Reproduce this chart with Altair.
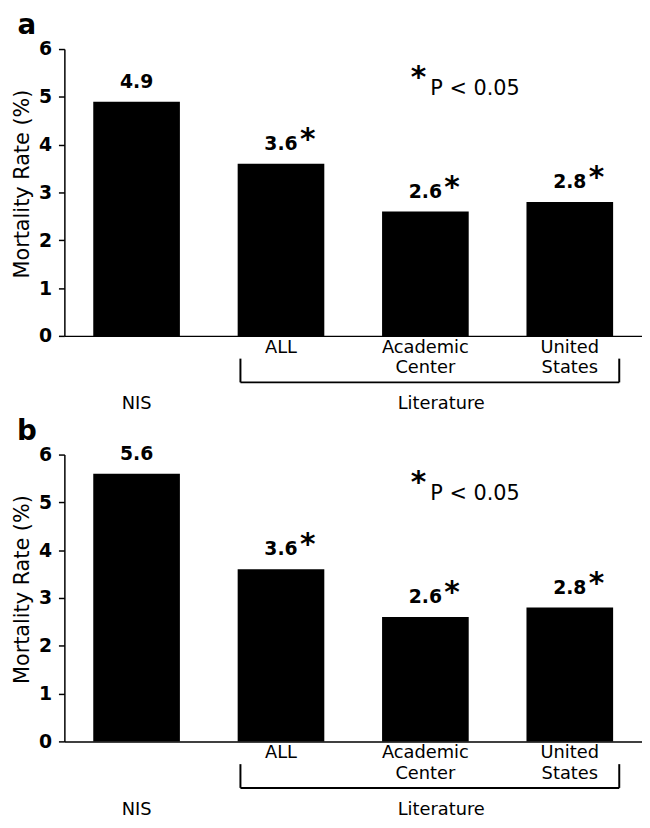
import altair as alt
import pandas as pd

categories = ["NIS", "ALL", "Academic Center", "United States"]
axis_labels = ["", "ALL", "Academic\nCenter", "United\nStates"]
rates_a = [4.9, 3.6, 2.6, 2.8]
rates_b = [5.6, 3.6, 2.6, 2.8]
significant = [False, True, True, True]
y_ticks = [0, 1, 2, 3, 4, 5, 6]
group_labels = ["NIS", "Literature"]
panel_letters = ["a", "b"]
legend_text = ["P < 0.05"]

FONT = "DejaVu Sans"
W, H = 584, 290


def panel(rates, letter):
    df = pd.DataFrame({
        "cat": categories,
        "lab": axis_labels,
        "rate": rates,
        "txt": [f"{r:.1f}" for r in rates],
        "sig": significant,
    })
    x = alt.X(
        "cat:N", sort=categories,
        scale=alt.Scale(paddingInner=0.4, paddingOuter=0.2),
        axis=alt.Axis(labels=False, ticks=False, title=None,
                      domainColor="black", domainWidth=1.5),
    )
    y = alt.Y(
        "rate:Q",
        scale=alt.Scale(domain=[0, 6], nice=False),
        axis=alt.Axis(values=y_ticks, format="d", grid=False,
                      title="Mortality Rate (%)", titleFont=FONT,
                      titleFontSize=21, titleFontWeight="normal",
                      titleColor="black", titlePadding=6, titleY=136,
                      labelFont=FONT, labelFontSize=19,
                      labelFontWeight="bold", labelColor="black",
                      labelPadding=7, tickSize=6, tickColor="black",
                      tickWidth=1.5, domainColor="black", domainWidth=1.5),
    )
    base = alt.Chart(df)
    bars = base.mark_bar(color="black").encode(x=x, y=y)
    vals = base.mark_text(font=FONT, fontSize=19, fontWeight="bold",
                          baseline="middle", dy=-20, color="black").encode(
        x=x, y=y, text="txt:N")
    stars = base.transform_filter("datum.sig").mark_text(
        text="*", font=FONT, fontSize=30, fontWeight="bold",
        baseline="middle", dx=27, dy=-24, color="black").encode(x=x, y=y)
    cats = base.mark_text(font=FONT, fontSize=18, baseline="top",
                          lineBreak="\n", lineHeight=21, color="black").encode(
        x=x, y=alt.value(H + 3), text="lab:N")
    nis = base.transform_filter("datum.cat == 'NIS'").mark_text(
        font=FONT, fontSize=18, baseline="middle", color="black").encode(
        x=x, y=alt.value(H + 69), text=alt.value(group_labels[0]))
    one = pd.DataFrame({"g": [group_labels[1]]})
    lit = alt.Chart(one).mark_text(
        font=FONT, fontSize=18, baseline="middle", color="black").encode(
        x=alt.value(381), y=alt.value(H + 69), text="g:N")
    br_h = alt.Chart(one).mark_rule(color="black", strokeWidth=2).encode(
        x=alt.value(178), x2=alt.value(561), y=alt.value(H + 47))
    br_l = alt.Chart(one).mark_rule(color="black", strokeWidth=2).encode(
        x=alt.value(178), y=alt.value(H + 23), y2=alt.value(H + 47))
    br_r = alt.Chart(one).mark_rule(color="black", strokeWidth=2).encode(
        x=alt.value(561), y=alt.value(H + 23), y2=alt.value(H + 47))
    leg = pd.DataFrame({"t": legend_text})
    leg_star = alt.Chart(leg).mark_text(
        text="*", font=FONT, fontSize=30, fontWeight="bold",
        baseline="middle", color="black").encode(
        x=alt.value(358), y=alt.value(29))
    leg_txt = alt.Chart(leg).mark_text(
        font=FONT, fontSize=21, align="left", baseline="middle",
        color="black").encode(x=alt.value(370), y=alt.value(40), text="t:N")
    let = alt.Chart(pd.DataFrame({"l": [letter]})).mark_text(
        font=FONT, fontSize=28, fontWeight="bold", baseline="alphabetic",
        color="black").encode(x=alt.value(-38), y=alt.value(-15), text="l:N")
    return alt.layer(bars, vals, stars, cats, nis, lit, br_h, br_l, br_r,
                     leg_star, leg_txt, let).properties(width=W, height=H)


chart = alt.vconcat(
    panel(rates_a, panel_letters[0]),
    panel(rates_b, panel_letters[1]),
    spacing=120, bounds="flush",
).properties(
    padding={"left": 3, "top": 0, "right": 0, "bottom": 0}
).configure_view(stroke=None)

chart.save("out.html", embed_options={"renderer": "svg", "actions": False})
